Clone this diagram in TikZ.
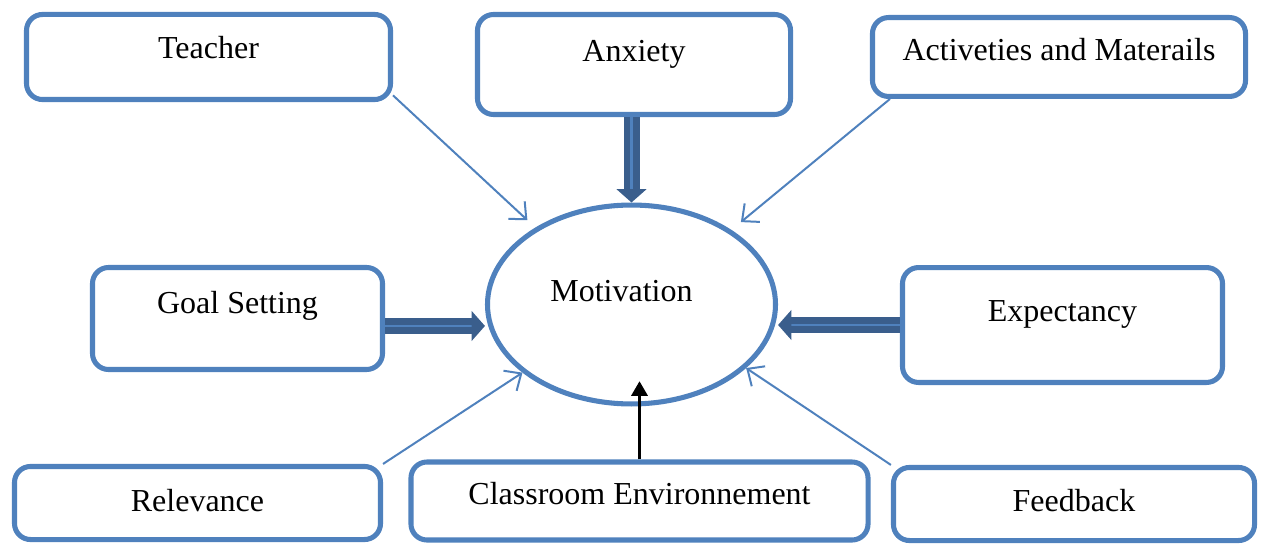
\documentclass[tikz,border=0pt]{standalone}
\usepackage{fontspec}
\setmainfont{Liberation Serif}
\usetikzlibrary{positioning,calc}
\usetikzlibrary{shapes.geometric, arrows.meta}
\definecolor{bxblue}{HTML}{4F81BD}
\definecolor{fatblue}{HTML}{3A5E8C}
\tikzset{
  bx/.style={rectangle, rounded corners=6pt, line width=1.9pt, draw=bxblue, fill=white, text height=8pt, text centered, font=\fontsize{12pt}{14pt}\selectfont},
  el/.style={ellipse, line width=1.9pt, draw=bxblue, fill=white, minimum width=108pt, minimum height=74.6pt, text height=8pt, font=\fontsize{12pt}{14pt}\selectfont},
  ar/.style={draw=bxblue, line width=0.75pt, -{Straight Barb[length=5pt,width=9pt]}},
  fa/.style={draw=fatblue, double=bxblue, double distance=1pt, line width=2.5pt, -{Triangle[length=5pt,width=11pt]}},
  bk/.style={draw=black, line width=1.2pt, -{Triangle[length=5.5pt,width=6pt]}}
}
\begin{document}
\begin{tikzpicture}[x=0.375pt,y=-0.375pt]
	\useasboundingbox (0,0) rectangle (1264,545);
	\node[el, text depth=10.1pt] (mot) at (631.5,304.5) {Motivation\kern7.5pt};
	\node[bx, minimum width=136.5pt, minimum height=31.9pt, text depth=6.75pt] (tch) at (208.5,57) {Teacher};
	\node[bx, minimum width=117.4pt, minimum height=37.5pt, text depth=10.1pt] (anx) at (634,64.5) {Anxiety};
	\node[bx, minimum width=139.9pt, minimum height=29.6pt, text depth=5.25pt] (act) at (1059,57) {Activeties and Materails};
	\node[bx, minimum width=108.75pt, minimum height=38.25pt, text depth=11.6pt] (gls) at (237.5,318.5) {Goal Setting};
	\node[bx, minimum width=120pt, minimum height=43.1pt, text depth=10.9pt] (exp) at (1062.5,325) {Expectancy};
	\node[bx, minimum width=137.25pt, minimum height=27.4pt, text depth=1.9pt] (rel) at (197.5,503) {Relevance};
	\node[bx, minimum width=171.4pt, minimum height=29.25pt, text depth=5.6pt] (cls) at (639.5,501) {Classroom Environnement};
	\node[bx, minimum width=135.4pt, minimum height=27.4pt, text depth=2.6pt] (fdb) at (1074,504) {Feedback};
	%
	\draw[ar] ([yshift=2.5pt]tch.south east) -- ($(mot.center)!1.09!(mot.141)$);
	\draw[ar] ([xshift=7.5pt]act.south west) -- ($(mot.center)!1.1!(mot.37)$);
	\draw[ar] (rel.north east) -- (mot.212);
	\draw[ar] (fdb.north west) -- (mot.-29);
	\draw[fa] (mot.north |- anx.south) -- (mot.north);
	\draw[fa] ([yshift=-2.8pt]gls.east) -- ($(gls.east -| mot.west)+(0,-2.8pt)$);
	\draw[fa] (exp.west) -- (exp.west -| mot.east);
	\draw[bk] (cls.north) -- ($(cls.north |- mot.south)+(0,9.5pt)$);
\end{tikzpicture}
\end{document}
